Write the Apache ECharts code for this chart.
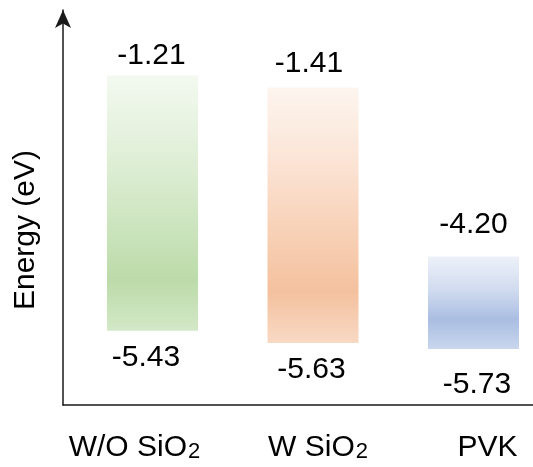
<!DOCTYPE html>
<html>
<head>
<meta charset="utf-8">
<script src="https://cdn.jsdelivr.net/npm/echarts@6/dist/echarts.min.js"></script>
<style>
  html, body { margin: 0; padding: 0; background: #ffffff; }
  #chart { width: 533px; height: 467px; }
</style>
</head>
<body>
<div id="chart"></div>
<script>
// Energy levels (eV) for each layer
const categories = ['W/O SiO2', 'W SiO2', 'PVK'];
const lumoLevels = [-1.21, -1.41, -4.20];
const homoLevels = [-5.43, -5.63, -5.73];

// Axis extent (eV) and horizontal placement of the columns
const Y_MIN = -6.656;
const Y_MAX = -0.127;
const X_MIN = -0.5576;
const X_MAX = 2.3707;
const BAR_FRACTION = 0.567;

// Vertical gradients of the level boxes
const barGradients = [
  [[0, '#f3f9f0'], [0.3, '#e1f0d9'], [0.55, '#cfe6c2'], [0.8, '#bcdba9'], [1, '#d3e8c7']],
  [[0, '#fdf5ef'], [0.3, '#fbe3d4'], [0.55, '#f8d2b8'], [0.8, '#f4c19e'], [1, '#f8d9c4']],
  [[0, '#edf1f9'], [0.35, '#d2dcf0'], [0.68, '#aabee2'], [1, '#c9d6ee']]
];

// Label nudges in px: [dx, dy] from box edge to text centre
const topLabelOffset = [[-1, -20], [-4, -24], [0, -31.5]];
const bottomLabelOffset = [[-6.5, 27], [-1.5, 27], [3.5, 36]];
const categoryLabelOffset = [[-18, 41], [5, 41], [14, 41]];

const FONT = '"Liberation Sans", Arial, sans-serif';
const AXIS_COLOR = '#1a1a1a';

const rows = categories.map((c, i) => [i, lumoLevels[i], homoLevels[i]]);

function categoryRich(name) {
  const m = name.match(/^(.*?)(\d)$/);
  return m ? '{n|' + m[1] + '}{s|' + m[2] + '}' : '{n|' + name + '}';
}

function renderItem(params, api) {
  const i = api.value(0);
  const lumo = api.value(1);
  const homo = api.value(2);
  const top = api.coord([i, lumo]);
  const bot = api.coord([i, homo]);
  const base = api.coord([i, Y_MIN]);
  const w = api.size([1, 0])[0] * BAR_FRACTION;
  const tOff = topLabelOffset[i];
  const bOff = bottomLabelOffset[i];
  const cOff = categoryLabelOffset[i];
  const valueStyle = (txt) => ({
    text: txt,
    fill: '#000000',
    font: '30px ' + FONT,
    align: 'center',
    verticalAlign: 'middle'
  });
  return {
    type: 'group',
    children: [
      {
        type: 'rect',
        shape: { x: top[0] - w / 2, y: top[1], width: w, height: bot[1] - top[1] },
        style: { fill: new echarts.graphic.LinearGradient(0, 0, 0, 1,
          barGradients[i].map(s => ({ offset: s[0], color: s[1] }))) }
      },
      { type: 'text', x: top[0] + tOff[0], y: top[1] + tOff[1], style: valueStyle(lumo.toFixed(2)) },
      { type: 'text', x: bot[0] + bOff[0], y: bot[1] + bOff[1], style: valueStyle(homo.toFixed(2)) },
      {
        type: 'text',
        x: base[0] + cOff[0],
        y: base[1] + cOff[1],
        style: {
          text: categoryRich(categories[i]),
          align: 'center',
          verticalAlign: 'middle',
          rich: {
            n: { fontSize: 30, fontFamily: FONT, color: '#000', lineHeight: 34, verticalAlign: 'bottom' },
            s: { fontSize: 22, fontFamily: FONT, color: '#000', lineHeight: 32, verticalAlign: 'bottom', padding: [0, 0, 0, 1] }
          }
        }
      }
    ]
  };
}

const chart = echarts.init(document.getElementById('chart'), null, { renderer: 'canvas' });
chart.setOption({
  animation: false,
  backgroundColor: '#ffffff',
  grid: { left: 63, right: 0, top: 10, bottom: 62, containLabel: false, outerBoundsMode: 'none' },
  xAxis: {
    type: 'value',
    min: X_MIN,
    max: X_MAX,
    axisLine: { show: true, onZero: false, lineStyle: { color: AXIS_COLOR, width: 1.5 } },
    axisTick: { show: false },
    axisLabel: { show: false },
    splitLine: { show: false }
  },
  yAxis: {
    type: 'value',
    min: Y_MIN,
    max: Y_MAX,
    name: 'Energy (eV)',
    nameLocation: 'middle',
    nameGap: 22,
    nameTextStyle: { fontSize: 30, fontFamily: FONT, color: '#000', padding: [0, 45, 0, 0] },
    axisLine: {
      show: true, onZero: false,
      symbol: ['none', 'arrow'], symbolSize: [12, 18],
      lineStyle: { color: AXIS_COLOR, width: 1.5 }
    },
    axisTick: { show: false },
    axisLabel: { show: false },
    splitLine: { show: false }
  },
  series: [{
    type: 'custom',
    clip: false,
    renderItem: renderItem,
    data: rows
  }]
});
</script>
</body>
</html>
